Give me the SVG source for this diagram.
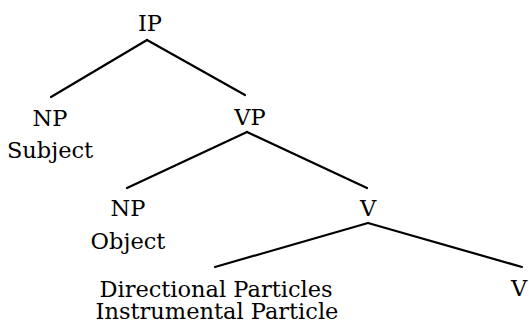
<svg xmlns="http://www.w3.org/2000/svg" width="529" height="326" viewBox="0 0 529 326">
<style>
text{font-family:"DejaVu Serif","Liberation Serif",serif;font-size:22.5px;fill:#000;text-anchor:middle}
.e{stroke:#000;stroke-width:2.2;fill:none;stroke-linecap:round}
</style>
<rect width="529" height="326" fill="#fff"/>
<g id="connectors">
<line class="e" x1="147" y1="40" x2="51" y2="97"/>
<line class="e" x1="147" y1="40" x2="245" y2="95"/>
<line class="e" x1="247" y1="132" x2="127" y2="188"/>
<line class="e" x1="247" y1="132" x2="367" y2="188"/>
<line class="e" x1="368" y1="223" x2="215" y2="267"/>
<line class="e" x1="368" y1="223" x2="522" y2="267"/>
</g>
<g id="ip"><text x="150" y="31">IP</text></g>
<g id="np-subject"><text x="50" y="126">NP</text><text x="50" y="158">Subject</text></g>
<g id="vp"><text x="250" y="125">VP</text></g>
<g id="np-object"><text x="128" y="216">NP</text><text x="128" y="249">Object</text></g>
<g id="v"><text x="368" y="216">V</text></g>
<g id="particles"><text x="216" y="297">Directional Particles</text><text x="217" y="319">Instrumental Particle</text></g>
<g id="v-head"><text x="519" y="296">V</text></g>
</svg>
